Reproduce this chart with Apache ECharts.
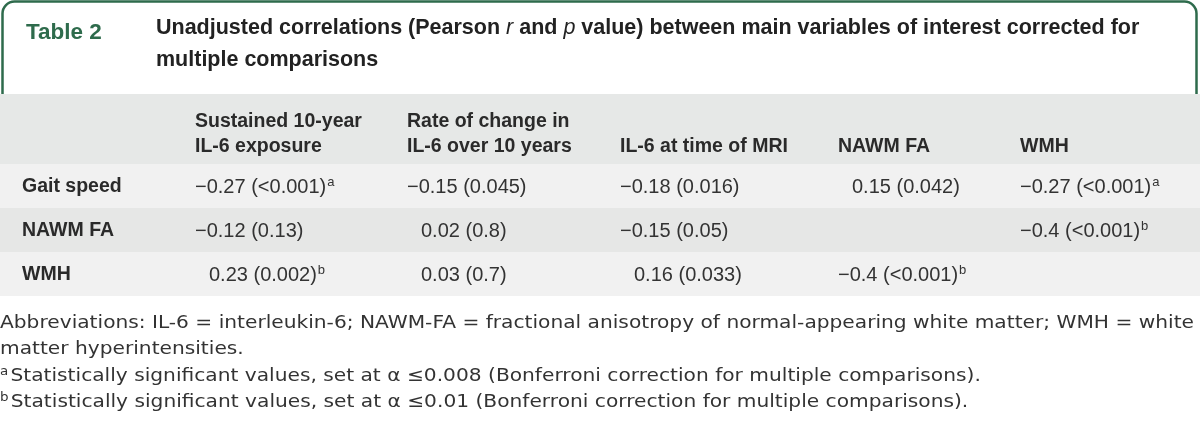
<!DOCTYPE html>
<html>
<head>
<meta charset="utf-8">
<script src="https://cdn.jsdelivr.net/npm/echarts@6/dist/echarts.min.js"></script>
<style>
html,body{margin:0;padding:0;background:#fff;}
#chart{width:1200px;height:427px;}
</style>
</head>
<body>
<div id="chart"></div>
<script>
// ---- data ----
const tableLabel = 'Table 2';
const titleLines = [
  [['Unadjusted correlations (Pearson ', 'b'], ['r', 'bi'], [' and ', 'b'], ['p', 'bi'], [' value) between main variables of interest corrected for', 'b']],
  [['multiple comparisons', 'b']]
];
const columns = ['Sustained 10-year\nIL-6 exposure', 'Rate of change in\nIL-6 over 10 years', 'IL-6 at time of MRI', 'NAWM FA', 'WMH'];
const rows = ['Gait speed', 'NAWM FA', 'WMH'];
const rValues = [
  [-0.27, -0.15, -0.18, 0.15, -0.27],
  [-0.12, 0.02, -0.15, null, -0.4],
  [0.23, 0.03, 0.16, -0.4, null]
];
const pValues = [
  ['<0.001', '0.045', '0.016', '0.042', '<0.001'],
  ['0.13', '0.8', '0.05', null, '<0.001'],
  ['0.002', '0.7', '0.033', '<0.001', null]
];
const marks = [
  ['a', '', '', '', 'a'],
  ['', '', '', '', 'b'],
  ['b', '', '', 'b', '']
];
const footnotes = [
  ['', 'Abbreviations: IL-6 = interleukin-6; NAWM-FA = fractional anisotropy of normal-appearing white matter; WMH = white'],
  ['', 'matter hyperintensities.'],
  ['a', 'Statistically significant values, set at \u03b1 \u22640.008 (Bonferroni correction for multiple comparisons).'],
  ['b', 'Statistically significant values, set at \u03b1 \u22640.01 (Bonferroni correction for multiple comparisons).']
];

// ---- layout / style ----
const GREEN = '#2e6b4c';
const COL_LEFT = [22, 195, 407, 620, 838, 1020];
const MINUS_W = 14;
const HEAD_FONT = '"Liberation Sans", Arial, sans-serif';
const BODY_FONT = '"Liberation Sans", Arial, sans-serif';
const NOTE_FONT = '"DejaVu Sans", "Noto Sans", sans-serif';
const NOTE_SIZE = 18;
const NOTE_LINE1_WIDTH = 1194;

// measure footnote width to stretch it horizontally like the reference typeface
const mctx = document.createElement('canvas').getContext('2d');
mctx.font = NOTE_SIZE + 'px ' + NOTE_FONT;
const noteScaleX = NOTE_LINE1_WIDTH / mctx.measureText(footnotes[0][1]).width;

const cellData = [];
rows.forEach((r, ri) => {
  rValues[ri].forEach((v, ci) => {
    if (v !== null) cellData.push([ci, ri]);
  });
});
const rowBgData = rows.map((r, ri) => [0, ri]);
const rowLabelData = rows.map((r, ri) => [0, ri]);

function fmtR(v) { return (v < 0 ? '\u2212' : '') + String(Math.abs(v)); }

const chart = echarts.init(document.getElementById('chart'), null, {renderer: 'canvas'});

const graphic = [];
// green header frame (bottom edge hidden under header band)
graphic.push({
  type: 'rect', silent: true, z: 0,
  shape: {x: 2.5, y: 1.5, width: 1194, height: 110, r: [12, 12, 0, 0]},
  style: {fill: '#fff', stroke: GREEN, lineWidth: 2.5}
});
graphic.push({
  type: 'text', left: 26, top: 21, z: 2,
  style: {text: tableLabel, font: 'bold 22.5px ' + HEAD_FONT, fill: GREEN}
});
titleLines.forEach((line, li) => {
  graphic.push({
    type: 'text', left: 156, top: 17 + li * 32, z: 2,
    style: {
      text: line.map(s => '{' + s[1] + '|' + s[0] + '}').join(''),
      rich: {
        b: {font: 'bold 21.5px ' + HEAD_FONT, fill: '#222'},
        bi: {font: 'italic 21.5px ' + HEAD_FONT, fill: '#222'}
      }
    }
  });
});
// header band
graphic.push({type: 'rect', silent: true, z: 1, shape: {x: 0, y: 94, width: 1200, height: 70}, style: {fill: '#e6e8e7'}});
columns.forEach((c, ci) => {
  const lines = c.split('\n');
  lines.forEach((t, li) => {
    graphic.push({
      type: 'text', left: COL_LEFT[ci + 1], top: 149 - (lines.length - 1 - li) * 25.5 - 12, z: 2,
      style: {text: t, font: 'bold 19.5px ' + HEAD_FONT, fill: '#2a2a2a'}
    });
  });
});
// footnotes
footnotes.forEach((f, fi) => {
  graphic.push({
    type: 'text', x: 0, y: 314 + fi * 26, z: 2, scaleX: noteScaleX,
    style: {
      text: (f[0] ? '{s|' + f[0] + '}' : '') + '{n|' + f[1] + '}',
      rich: {
        s: {font: '12px ' + NOTE_FONT, fill: '#333', verticalAlign: 'top', padding: [0, 2, 8, 0]},
        n: {font: NOTE_SIZE + 'px ' + NOTE_FONT, fill: '#333'}
      }
    }
  });
});

const option = {
  animation: false,
  backgroundColor: '#fff',
  graphic: graphic,
  grid: {left: 0, right: 0, top: 164, height: 132},
  xAxis: {type: 'category', data: ['', ...columns], show: false},
  yAxis: {type: 'category', data: rows, inverse: true, show: false},
  series: [
    {
      type: 'custom', name: 'rowBg', z: 1, silent: true,
      data: rowBgData,
      renderItem: function (params, api) {
        const ri = api.value(1);
        const c = api.coord([0, ri]);
        const h = api.size([0, 1])[1];
        return {
          type: 'rect',
          shape: {x: 0, y: c[1] - h / 2, width: 1200, height: h},
          style: {fill: ri % 2 === 0 ? '#f1f1f1' : '#e6e7e6'}
        };
      }
    },
    {
      type: 'custom', name: 'rowLabels', z: 2, silent: true,
      data: rowLabelData,
      renderItem: function (params, api) {
        const ri = api.value(1);
        const c = api.coord([0, ri]);
        return {
          type: 'text',
          x: COL_LEFT[0], y: c[1] + 1,
          style: {text: rows[ri], font: 'bold 19.5px ' + HEAD_FONT, fill: '#2a2a2a', verticalAlign: 'middle'}
        };
      }
    },
    {
      type: 'custom', name: 'cells', z: 2, silent: true,
      data: cellData,
      renderItem: function (params, api) {
        const ci = api.value(0), ri = api.value(1);
        const c = api.coord([ci + 1, ri]);
        const v = rValues[ri][ci];
        const p = pValues[ri][ci];
        const m = marks[ri][ci];
        const x = COL_LEFT[ci + 1] + (v < 0 ? 0 : MINUS_W);
        return {
          type: 'text',
          x: x, y: c[1] + 1,
          style: {
            text: '{n|' + fmtR(v) + ' (' + p + ')}' + (m ? '{s|' + m + '}' : ''),
            verticalAlign: 'middle',
            rich: {
              n: {font: '20px ' + BODY_FONT, fill: '#333'},
              s: {font: '13px ' + BODY_FONT, fill: '#333', verticalAlign: 'top', padding: [0, 0, 9, 1]}
            }
          }
        };
      }
    }
  ]
};
chart.setOption(option);
</script>
</body>
</html>
